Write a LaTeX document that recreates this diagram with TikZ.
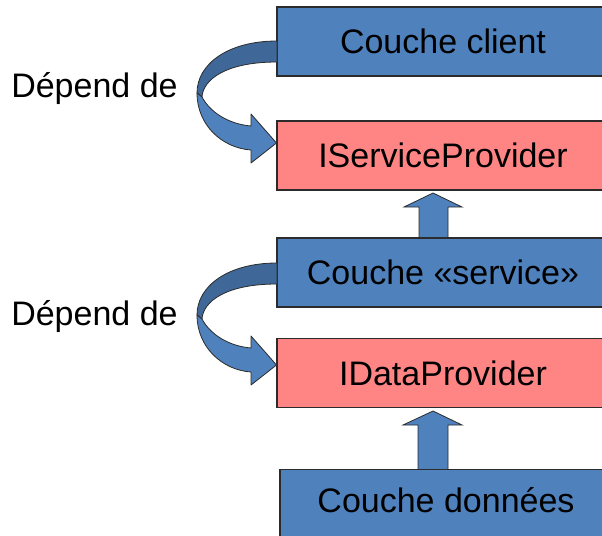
\documentclass[tikz,border=0pt]{standalone}
\usepackage{fontspec}
\setmainfont{Liberation Sans}
\usetikzlibrary{calc}
\definecolor{boxblue}{HTML}{4F81BD}
\definecolor{boxpink}{HTML}{FF8585}
\definecolor{darkband}{HTML}{3F6898}
\definecolor{edge}{HTML}{2B2B2B}
\tikzset{
  layerbox/.style={draw=edge, line width=0.8pt, fill=boxblue, minimum width=249pt, minimum height=51.75pt, inner sep=0pt, font=\fontsize{25.5}{30}\selectfont, text height=18.5pt, text depth=0pt},
  ifacebox/.style={layerbox, fill=boxpink},
  deplabel/.style={anchor=base west, inner sep=0pt, font=\fontsize{25.5}{30}\selectfont},
  bandback/.style={draw=edge, line width=0.6pt, fill=darkband, line join=round},
  bandfront/.style={draw=edge, line width=0.6pt, fill=boxblue, line join=round},
  uparrow/.style={draw=edge, line width=0.6pt, fill=boxblue, line join=miter}
}
\begin{document}
\begin{tikzpicture}[x=0.75pt, y=-0.75pt]
\useasboundingbox (0,0) rectangle (602,535);
\clip (0,0) rectangle (602,535);
% up arrows (drawn first, boxes cover their feet)
\draw[uparrow] (419,239) -- (419,207) -- (404,207) -- (433,193) -- (462,207) -- (448,207) -- (448,239);
\draw[uparrow] (418,470) -- (418,425) -- (403,425) -- (433,411) -- (462,425) -- (448,425) -- (448,470);
% boxes
\node[layerbox] (c1) at (443,41.5) {Couche client};
\node[ifacebox] (i1) at (443,155.5) {IServiceProvider};
\node[layerbox] (c2) at (443,272.5) {Couche «service»};
\node[ifacebox] (i2) at (443,373) {IDataProvider};
\node[layerbox, anchor=north, minimum height=60pt, text depth=14pt] (c3) at (446,469) {Couche données};
% labels
\node[deplabel] (d1) at (11,97) {Dépend de};
\node[deplabel] (d2) at (11,325) {Dépend de};
% curved arrows
\foreach \dy in {0,222}{
\begin{scope}[shift={(0,\dy)}]
\draw[bandback] (277,41) .. controls (228,41) and (197,64) .. (197,93) -- (202,97) .. controls (203,80) and (225,62) .. (277,62) -- cycle;
\draw[bandfront] (197,93) .. controls (197,125) and (222,148) .. (251,150) -- (251,163) -- (276.5,143) -- (251,114) -- (251,126) .. controls (228,124) and (210,112) .. (202,97) -- cycle;
\end{scope}
}
\end{tikzpicture}
\end{document}
